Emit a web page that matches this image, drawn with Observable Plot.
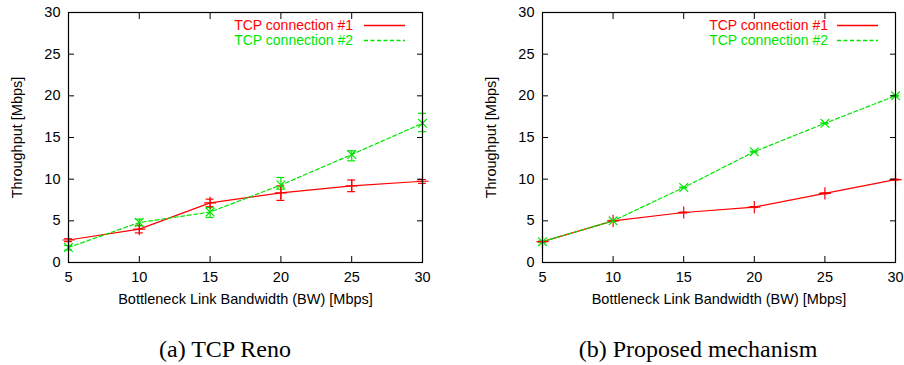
<!DOCTYPE html>
<html>
<head>
<meta charset="utf-8">
<script src="https://cdn.jsdelivr.net/npm/d3@7"></script>
<script src="https://cdn.jsdelivr.net/npm/@observablehq/plot@0.6"></script>
<style>
  html, body { margin: 0; padding: 0; background: #fff; }
  #fig { position: relative; width: 904px; height: 365px; background: #fff; font-family: "Liberation Sans", Arial, sans-serif; }
  .panel { position: absolute; top: 0; }
  .legend { position: absolute; font-size: 14px; line-height: 15px; }
  .legend .row { position: relative; height: 15px; }
  .legend .lab { position: absolute; right: 0; white-space: nowrap; }
  .legend svg { position: absolute; top: 0; overflow: visible; }
  .caption { position: absolute; top: 336px; font-family: "Liberation Serif", "Times New Roman", serif; font-size: 24px; white-space: nowrap; transform: translateX(-50%); }
</style>
</head>
<body>
<div id="fig"></div>
<script>
// ---- data ----
const bandwidth = [5, 10, 15, 20, 25, 30];
const seriesNames = ["TCP connection #1", "TCP connection #2"];
const panelTitles = ["(a) TCP Reno", "(b) Proposed mechanism"];
const yTicks = [0, 5, 10, 15, 20, 25, 30];
const xTicks = [5, 10, 15, 20, 25, 30];

const renoConn1   = [2.7, 4.0, 7.15, 8.35, 9.2, 9.75];
const renoConn1Lo = [2.5, 3.55, 6.7, 7.45, 8.5, 9.5];
const renoConn1Hi = [2.85, 4.45, 7.6, 9.2, 9.9, 9.95];
const renoConn2   = [1.8, 4.8, 6.05, 9.3, 12.95, 16.7];
const renoConn2Lo = [1.5, 4.4, 5.4, 8.8, 12.2, 15.7];
const renoConn2Hi = [2.05, 5.2, 6.6, 10.2, 13.4, 17.9];

const propConn1   = [2.5, 5.0, 6.0, 6.65, 8.3, 9.95];
const propConn1Lo = [2.45, 4.95, 5.95, 6.6, 8.25, 9.9];
const propConn1Hi = [2.55, 5.05, 6.05, 6.7, 8.35, 10.0];
const propConn2   = [2.5, 5.0, 9.0, 13.3, 16.7, 20.0];
const propConn2Lo = [2.45, 4.95, 8.95, 13.25, 16.65, 19.95];
const propConn2Hi = [2.55, 5.05, 9.05, 13.35, 16.75, 20.05];

const RED = "#ff0000", GREEN = "#00e600";

function table(vals, lo, hi, series) {
  return bandwidth.map((x, i) => ({x, y: vals[i], lo: lo[i], hi: hi[i], series}));
}

function panel(s1, s2, opts) {
  const capHalf = 0.28;
  const line = (d, color, dash) => [
    Plot.ruleX(d, {x: "x", y1: "lo", y2: "hi", stroke: color, strokeWidth: 1.2}),
    Plot.ruleY(d, {y: "lo", x1: e => e.x - capHalf, x2: e => e.x + capHalf, stroke: color, strokeWidth: 1.2}),
    Plot.ruleY(d, {y: "hi", x1: e => e.x - capHalf, x2: e => e.x + capHalf, stroke: color, strokeWidth: 1.2}),
    Plot.line(d, {x: "x", y: "y", stroke: color, strokeWidth: 1.2, strokeDasharray: dash}),
  ];
  return Plot.plot({
    width: opts.width,
    height: 310,
    marginLeft: opts.marginLeft,
    marginRight: opts.marginRight,
    marginTop: 12,
    marginBottom: 48,
    style: {fontFamily: "'Liberation Sans', Arial, sans-serif", fontSize: "14.5px", color: "#000", background: "transparent", overflow: "visible"},
    x: {domain: [5, 30]},
    y: {domain: [0, 30]},
    marks: [
      ...line(s1, RED, null),
      ...line(s2, GREEN, "4,2.5"),
      Plot.dot(s1, {x: "x", y: "y", symbol: "plus", r: 4, stroke: RED, strokeWidth: 1.2}),
      Plot.dot(s2, {x: "x", y: "y", symbol: "times", r: 4, stroke: GREEN, strokeWidth: 1.2}),
      Plot.axisX({ticks: xTicks, tickSize: 0, tickPadding: 9, label: "Bottleneck Link Bandwidth (BW) [Mbps]", labelAnchor: "center", labelArrow: "none", labelOffset: 41}),
      Plot.axisX({ticks: xTicks, tickSize: -6, tickFormat: () => "", label: null, stroke: "#000"}),
      Plot.axisX({ticks: xTicks, anchor: "top", tickSize: -6, tickFormat: () => "", label: null, stroke: "#000"}),
      Plot.axisY({ticks: yTicks, tickSize: 0, tickPadding: 8, label: "Throughput [Mbps]", labelAnchor: "center", labelArrow: "none", labelOffset: 57}),
      Plot.axisY({ticks: yTicks, tickSize: -6, tickFormat: () => "", label: null, stroke: "#000"}),
      Plot.axisY({ticks: yTicks, anchor: "right", tickSize: -6, tickFormat: () => "", label: null, stroke: "#000"}),
      Plot.frame({stroke: "#000", strokeWidth: 1.2})
    ]
  });
}

const fig = document.getElementById("fig");

function addPanel(left, chart, legendRight, lineX0, lineX1, caption, captionX) {
  const div = document.createElement("div");
  div.className = "panel";
  div.style.left = left + "px";
  div.appendChild(chart);
  fig.appendChild(div);

  const leg = document.createElement("div");
  leg.className = "legend";
  leg.style.left = "0px";
  leg.style.top = "18px";
  leg.style.width = legendRight + "px";
  const colors = [RED, GREEN], dashes = ["none", "4,2.5"];
  seriesNames.forEach((name, i) => {
    const row = document.createElement("div");
    row.className = "row";
    const lab = document.createElement("span");
    lab.className = "lab";
    lab.textContent = name;
    lab.style.color = colors[i];
    row.appendChild(lab);
    const svg = d3.create("svg").attr("width", lineX1 - lineX0).attr("height", 15)
      .style("left", lineX0 + "px");
    svg.append("line").attr("x1", 0).attr("x2", lineX1 - lineX0).attr("y1", 7.5).attr("y2", 7.5)
      .style("stroke", colors[i]).style("stroke-width", "1.3px").style("stroke-dasharray", dashes[i]);
    row.appendChild(svg.node());
    leg.appendChild(row);
  });
  fig.appendChild(leg);

  const cap = document.createElement("div");
  cap.className = "caption";
  cap.style.left = captionX + "px";
  cap.textContent = caption;
  fig.appendChild(cap);
}

const leftChart = panel(table(renoConn1, renoConn1Lo, renoConn1Hi, seriesNames[0]),
                        table(renoConn2, renoConn2Lo, renoConn2Hi, seriesNames[1]),
                        {width: 450, marginLeft: 68, marginRight: 28});
const rightChart = panel(table(propConn1, propConn1Lo, propConn1Hi, seriesNames[0]),
                         table(propConn2, propConn2Lo, propConn2Hi, seriesNames[1]),
                         {width: 454, marginLeft: 92, marginRight: 9});

addPanel(0, leftChart, 353, 364, 405, panelTitles[0], 225);
addPanel(450, rightChart, 828, 837, 878, panelTitles[1], 698);
</script>
</body>
</html>
